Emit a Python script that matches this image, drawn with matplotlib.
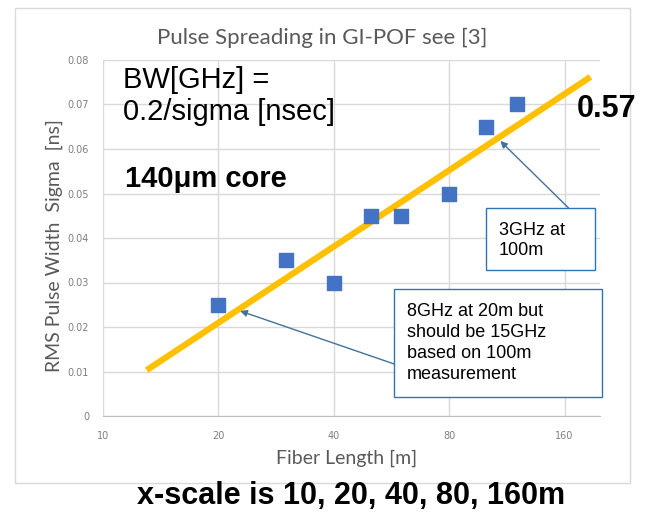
import numpy as np
import matplotlib.pyplot as plt
from matplotlib.patches import Rectangle

# Donnees
longueurs = [20, 30, 40, 50, 60, 80, 100, 120]
sigmas = [0.025, 0.035, 0.030, 0.045, 0.045, 0.050, 0.065, 0.070]

# Droite d'ajustement (tracee a la main sur l'original)
fit_x = [13, 187]
fit_y = [0.0103, 0.0762]

xticks = [10, 20, 40, 80, 160]
yticks = [0, 0.01, 0.02, 0.03, 0.04, 0.05, 0.06, 0.07, 0.08]
ytick_labels = ['0', '0.01', '0.02', '0.03', '0.04', '0.05', '0.06', '0.07', '0.08']

gris = '#595959'
bleu = '#4472C4'
fleche = '#41719C'

fig = plt.figure(figsize=(6.47, 5.13), dpi=100)

# cadre du graphique
fig.patches.append(Rectangle((15/647, 1 - 483/513), 615/647, 475/513,
                             transform=fig.transFigure, fill=False,
                             edgecolor='#D9D9D9', lw=1))

ax = fig.add_axes([103/647, 1 - 416/513, 497/647, 356/513])
ax.set_xscale('log', base=2)
ax.set_xlim(10, 198)
ax.set_ylim(0, 0.08)
ax.set_xticks(xticks)
ax.set_xticklabels([str(t) for t in xticks])
ax.minorticks_off()
ax.set_yticks(yticks)
ax.set_yticklabels(ytick_labels)
ax.tick_params(length=0, labelsize=7, labelcolor='#7F7F7F')
ax.tick_params(axis='y', pad=10)
ax.tick_params(axis='x', pad=11)
ax.grid(True, color='#D9D9D9', lw=1)
ax.set_axisbelow(True)
for s in ['top', 'right', 'left']:
    ax.spines[s].set_visible(False)
ax.spines['bottom'].set_color('#BFBFBF')

ax.plot(fit_x, fit_y, color='#FFC000', lw=4.5, solid_capstyle='butt', zorder=3)
ax.scatter(longueurs, sigmas, marker='s', s=95, color=bleu, zorder=4)

fig.text(322/647, 1 - 38/513, 'Pulse Spreading in GI-POF see [3]', fontsize=16,
         color=gris, family='Lato', ha='center', va='center')
ax.set_xlabel('Fiber Length [m]', fontsize=14, color=gris, family='Lato')
ax.xaxis.set_label_coords(0.491, -0.094)
ax.set_ylabel('RMS Pulse Width  Sigma  [ns]', fontsize=14, color=gris, family='Lato')
ax.yaxis.set_label_coords(-0.08, 0.48)

ax.text(0.04, 0.983, 'BW[GHz] =\n0.2/sigma [nsec]', transform=ax.transAxes,
        fontsize=21, family='Liberation Sans', va='top', linespacing=1.2)
ax.text(0.045, 0.643, '140\u03bcm core', transform=ax.transAxes,
        fontsize=21, family='Liberation Sans', fontweight='bold', va='baseline')
fig.text(577/647, 1 - 117/513, '0.57', fontsize=22, family='Liberation Sans',
         fontweight='bold', va='baseline')
fig.text(351/647, 1 - 504/513, 'x-scale is 10, 20, 40, 80, 160m', fontsize=22,
         family='Liberation Sans', fontweight='bold', ha='center', va='baseline')

# boites d'annotation
ax.add_patch(Rectangle((0.771, 0.410), 0.219, 0.174, transform=ax.transAxes,
                       facecolor='white', edgecolor='#2E75B6', lw=1, zorder=5,
                       clip_on=False))
ax.text(0.797, 0.545, '3GHz at\n100m', transform=ax.transAxes, fontsize=13,
        family='Liberation Sans', va='top', linespacing=1.27, zorder=6)
ax.add_patch(Rectangle((0.586, 0.053), 0.418, 0.304, transform=ax.transAxes,
                       facecolor='white', edgecolor='#2E75B6', lw=1, zorder=5,
                       clip_on=False))
ax.text(0.612, 0.317, '8GHz at 20m but\nshould be 15GHz\nbased on 100m\nmeasurement',
        transform=ax.transAxes, fontsize=13, family='Liberation Sans',
        va='top', linespacing=1.3, zorder=6)

ax.annotate('', xy=(108.8, 0.0618), xytext=(0.937, 0.584),
            textcoords='axes fraction',
            arrowprops=dict(arrowstyle='-|>', color=fleche, lw=1,
                            mutation_scale=10, shrinkA=0, shrinkB=0), zorder=5)
ax.annotate('', xy=(22.8, 0.0236), xytext=(0.586, 0.146),
            textcoords='axes fraction',
            arrowprops=dict(arrowstyle='-|>', color=fleche, lw=1,
                            mutation_scale=10, shrinkA=0, shrinkB=0), zorder=5)

fig.savefig('out.png', dpi=100)
